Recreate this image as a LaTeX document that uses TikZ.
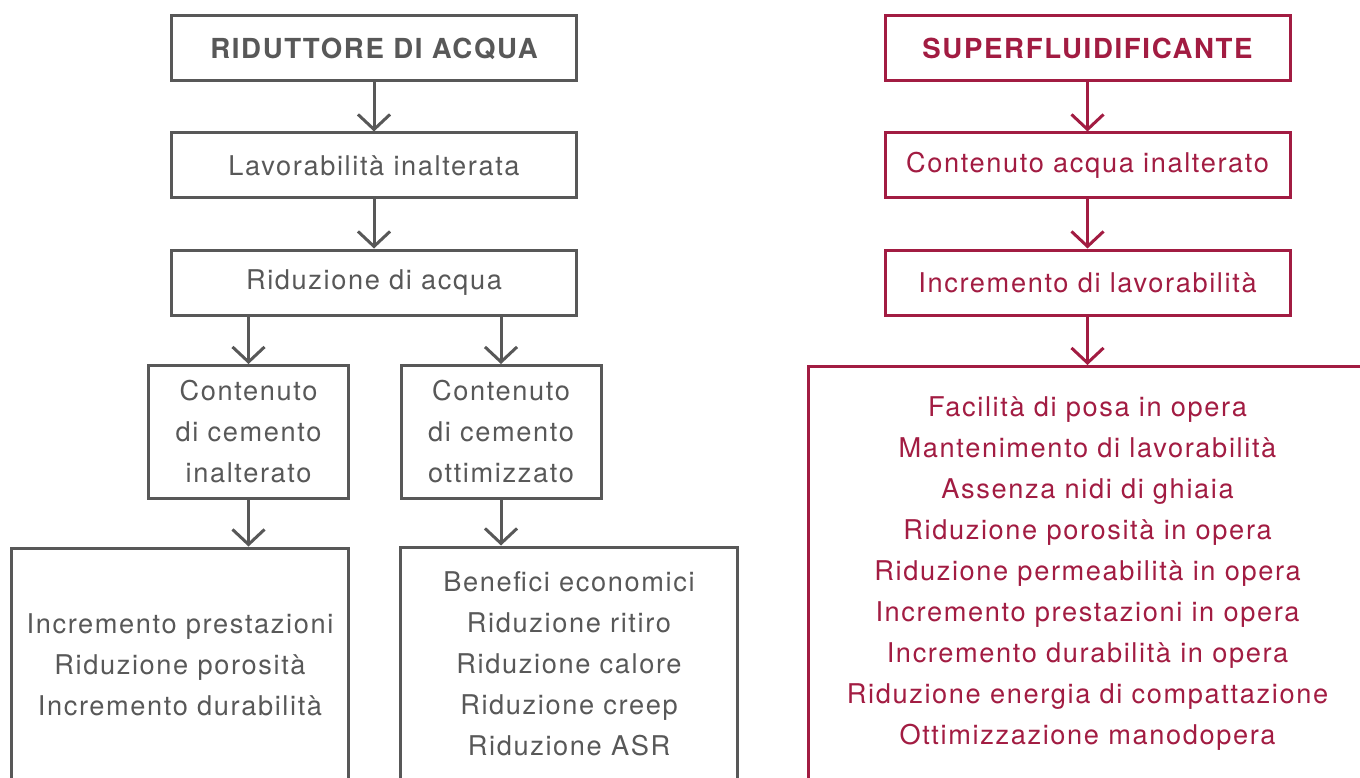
\documentclass[tikz,border=0pt]{standalone}
\usepackage{fontspec}
\setmainfont[LetterSpace=6]{TeX Gyre Heros}
\usepackage{tikz}
\usetikzlibrary{arrows.meta,calc}
\usepackage{xcolor}
\definecolor{grigio}{RGB}{88,88,88}
\definecolor{rosso}{RGB}{162,28,66}

\begin{document}
\begin{tikzpicture}[x=1pt,y=-1pt,
    box/.style={draw,line width=3pt,inner sep=0pt,align=center,font=\fontsize{27.2}{41}\selectfont},
    head/.style={font=\fontsize{27.6}{41}\selectfont\bfseries},
    wide/.style={box,minimum width=405pt,minimum height=65pt},
    narrow/.style={box,minimum width=200pt,minimum height=133pt},
    tall/.style={box,minimum width=337pt,minimum height=234pt},
    arr/.style={line width=3pt,-{Straight Barb[length=15pt,width=32pt]}}]
    \path[use as bounding box,clip] (0,0) rectangle (1360,778);

    \begin{scope}[grigio]
    \node[wide,head] (rid) at (374,48.5) {RIDUTTORE DI ACQUA};
    \node[wide] (lav) at (374,165.5) {Lavorabilità inalterata};
    \node[wide] (rda) at (374,282.5) {Riduzione di acqua};
    \node[narrow] (cin) at (248.5,432) {Contenuto\\di cemento\\inalterato};
    \node[narrow] (cott) at (501,432) {Contenuto\\di cemento\\ottimizzato};
    \node[tall] (prest) at (180,665) {Incremento prestazioni\\Riduzione porosità\\Incremento durabilità};
    \node[tall] (econ) at (569,664) {Benefici economici\\Riduzione ritiro\\Riduzione calore\\Riduzione creep\\Riduzione ASR};

    \draw[arr] (rid) -- (lav);
    \draw[arr] (lav) -- (rda);
    \draw[arr] (cin.north |- rda.south) -- (cin.north);
    \draw[arr] (cott.north |- rda.south) -- (cott.north);
    \draw[arr] (cin.south) -- (cin.south |- prest.north);
    \draw[arr] (cott.south) -- (cott.south |- econ.north);
    \end{scope}

    \begin{scope}[rosso]
    \node[wide,head] (sup) at (1087.5,48.5) {SUPERFLUIDIFICANTE};
    \node[wide] (cai) at (1087.5,165.5) {Contenuto acqua inalterato};
    \node[wide] (idl) at (1087.5,282.5) {Incremento di lavorabilità};
    \node[box,minimum width=558pt,minimum height=415pt] (opera) at (1087.5,574) {Facilità di posa in opera\\Mantenimento di lavorabilità\\Assenza nidi di ghiaia\\Riduzione porosità in opera\\Riduzione permeabilità in opera\\Incremento prestazioni in opera\\Incremento durabilità in opera\\Riduzione energia di compattazione\\Ottimizzazione manodopera};

    \draw[arr] (sup) -- (cai);
    \draw[arr] (cai) -- (idl);
    \draw[arr] (idl) -- (opera);
    \end{scope}
\end{tikzpicture}
\end{document}
